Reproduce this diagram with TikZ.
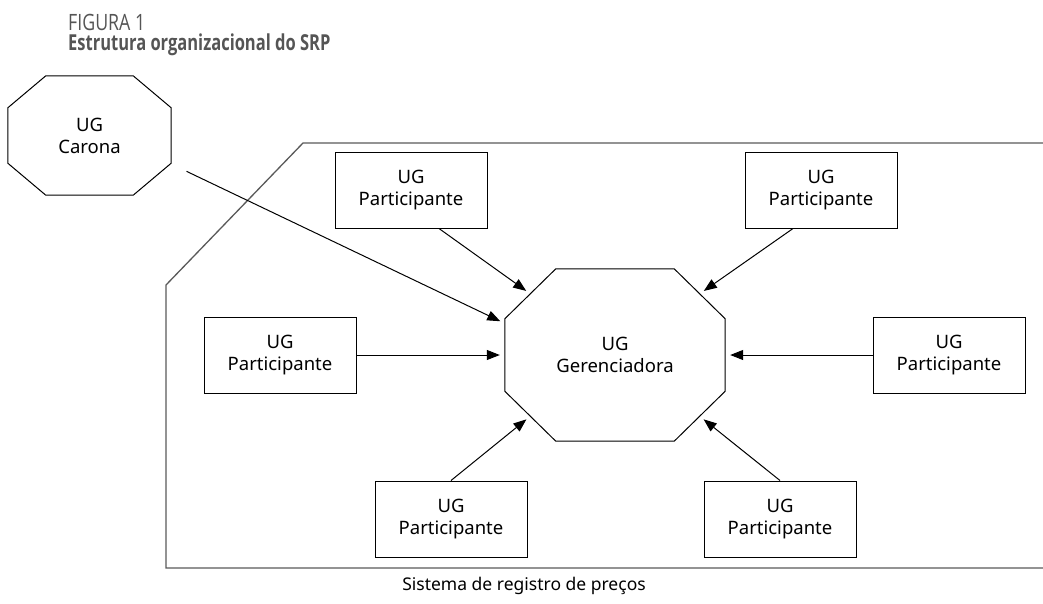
\documentclass[tikz,border=0pt]{standalone}
\usepackage{fontspec}
\setmainfont{Noto Sans}
\newfontfamily\titlefont{Open Sans}
\usetikzlibrary{arrows.meta}
\definecolor{titlegray}{HTML}{555555}
\definecolor{framegray}{HTML}{595959}

\begin{document}
\begin{tikzpicture}[x=1pt,y=-1pt,
	ug/.style={draw,rectangle,minimum width=152pt,minimum height=76pt,align=center,line width=1pt,font=\fontsize{18.5}{22}\selectfont},
	octa/.style={rectangle,inner sep=0pt,align=center,font=\fontsize{18.5}{22}\selectfont},
	borda/.style={line width=1pt,line join=miter},
	seta/.style={-{Triangle[length=13pt,width=10pt]},line width=1pt,shorten >=5pt}]
	\useasboundingbox (0,0) rectangle (1043,603);
	% title
	\node[anchor=base west,inner sep=0pt,text=titlegray,font=\titlefont\addfontfeature{FakeStretch=0.79}\fontsize{22.5}{24}\selectfont] (fig) at (68,30) {FIGURA 1};
	\node[anchor=base west,inner sep=0pt,text=titlegray,font=\titlefont\bfseries\addfontfeature{FakeStretch=0.75}\fontsize{22}{24}\selectfont] (tit) at (68,50) {Estrutura organizacional do SRP};
	% sistema
	\draw[framegray,line width=1.3pt] (1043,143) -- (303,143) -- (166,285) -- (166,568) -- (1043,568);
	\node[anchor=base,font=\fontsize{17.5}{20}\selectfont] (srp) at (524,590) {Sistema de registro de preços};
	% unidades
	\node[octa,minimum width=163pt,minimum height=119pt] (car) at (89.5,135.5) {UG\\Carona};
	\draw[borda] ([xshift=38pt]car.north west) -- ([xshift=-38pt]car.north east) -- ([yshift=-32pt]car.north east)
		-- ([yshift=32pt]car.south east) -- ([xshift=-38pt]car.south east) -- ([xshift=38pt]car.south west)
		-- ([yshift=32pt]car.south west) -- ([yshift=-32pt]car.north west) -- cycle;
	\node[octa,minimum width=220pt,minimum height=172pt] (ger) at (615,355) {UG\\Gerenciadora};
	\draw[borda] ([xshift=51pt]ger.north west) -- ([xshift=-51pt]ger.north east) -- ([yshift=-50pt]ger.north east)
		-- ([yshift=50pt]ger.south east) -- ([xshift=-51pt]ger.south east) -- ([xshift=51pt]ger.south west)
		-- ([yshift=50pt]ger.south west) -- ([yshift=-50pt]ger.north west) -- cycle;
	\node[ug] (pt1) at (411,190) {UG\\Participante};
	\node[ug] (pt2) at (821,190) {UG\\Participante};
	\node[ug] (pt3) at (280,355) {UG\\Participante};
	\node[ug] (pt4) at (949,355) {UG\\Participante};
	\node[ug] (pt5) at (451,519) {UG\\Participante};
	\node[ug] (pt6) at (780,519) {UG\\Participante};
	% setas
	\draw[seta,shorten <=17pt] ([yshift=-28.5pt]car.east) -- ([yshift=31.6pt]ger.west);
	\draw[seta] (pt1.-54) -- ([shift={(25.5pt,-25pt)}]ger.north west);
	\draw[seta] (pt2.-126) -- ([shift={(-25.5pt,-25pt)}]ger.north east);
	\draw[seta] (pt3.east) -- (ger.west);
	\draw[seta] (pt4.west) -- (ger.east);
	\draw[seta] (pt5.north) -- ([shift={(25.5pt,25pt)}]ger.south west);
	\draw[seta] (pt6.north) -- ([shift={(-25.5pt,25pt)}]ger.south east);
\end{tikzpicture}
\end{document}
